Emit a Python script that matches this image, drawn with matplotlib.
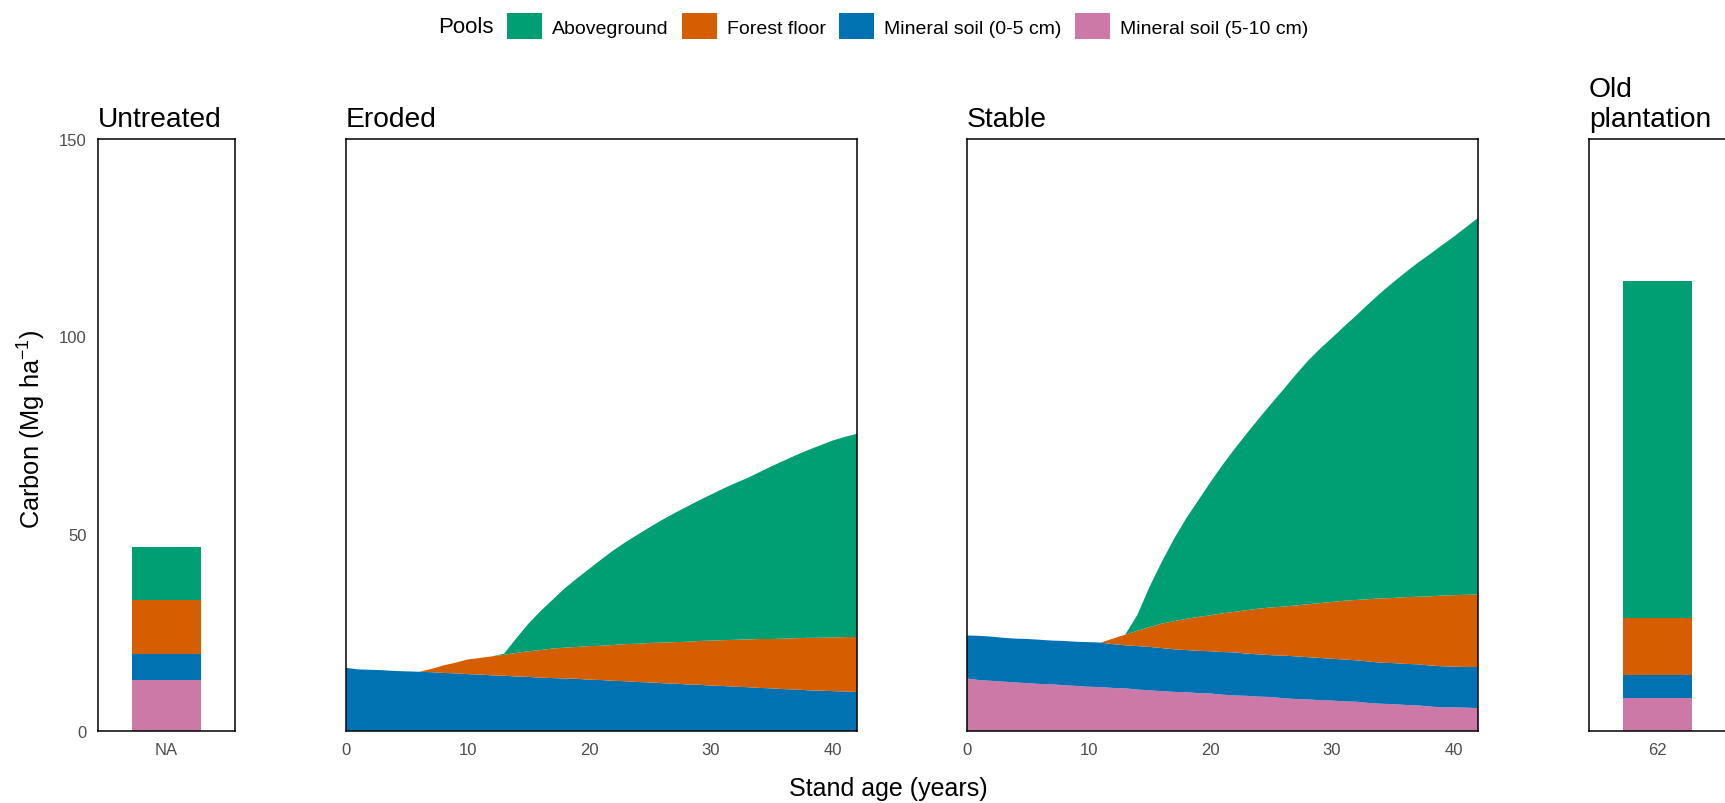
import numpy as np
import matplotlib.pyplot as plt
from matplotlib.patches import Patch

plt.rcParams['font.family'] = ['Liberation Sans', 'DejaVu Sans']
plt.rcParams['mathtext.fontset'] = 'custom'
plt.rcParams['mathtext.rm'] = 'Liberation Sans'
plt.rcParams['mathtext.default'] = 'regular'

# pools, bottom to top
pools = ["Mineral soil (5-10 cm)", "Mineral soil (0-5 cm)", "Forest floor", "Aboveground"]
pool_colors = ["#CC79A7", "#0072B2", "#D55E00", "#009E73"]

years = np.arange(0, 43)

# Eroded (no 5-10 cm layer)
eroded_soil_0_5 = [16.0, 15.6, 15.5, 15.4, 15.2, 15.1, 15.0, 14.9, 14.7, 14.6, 14.4,
                   14.3, 14.1, 14.0, 13.8, 13.7, 13.5, 13.4, 13.3, 13.2, 13.0,
                   12.9, 12.7, 12.6, 12.4, 12.3, 12.1, 12.0, 11.8, 11.7, 11.5,
                   11.4, 11.2, 11.1, 10.9, 10.8, 10.6, 10.5, 10.3, 10.2, 10.1,
                   10.0, 9.9]
eroded_floor = [0, 0, 0, 0, 0, 0, 0, 0.8, 1.9, 2.7, 3.7,
                4.2, 4.8, 5.3, 6.0, 6.5, 7.0, 7.5, 7.8, 8.1, 8.5,
                8.7, 9.1, 9.4, 9.7, 10.0, 10.3, 10.5, 10.8, 11.1, 11.4,
                11.6, 11.9, 12.1, 12.4, 12.5, 12.8, 13.0, 13.3, 13.4, 13.6,
                13.8, 13.9]
eroded_above = [0, 0, 0, 0, 0, 0, 0, 0, 0, 0, 0,
                0, 0, 0.3, 3.7, 7.0, 9.9, 12.4, 15.1, 17.4, 19.6,
                21.9, 24.0, 25.9, 27.7, 29.4, 31.1, 32.7, 34.2, 35.6, 37.0,
                38.4, 39.7, 40.9, 42.3, 43.8, 45.1, 46.4, 47.6, 48.8, 49.9,
                50.7, 51.5]

# Stable
stable_soil_5_10 = [13.3, 12.9, 12.7, 12.5, 12.3, 12.1, 11.9, 11.8, 11.6, 11.4, 11.2,
                    11.1, 10.9, 10.8, 10.5, 10.3, 10.1, 9.9, 9.8, 9.6, 9.5,
                    9.2, 9.0, 8.9, 8.7, 8.6, 8.3, 8.1, 8.0, 7.8, 7.7,
                    7.5, 7.4, 7.1, 6.9, 6.8, 6.6, 6.5, 6.2, 6.0, 6.0,
                    5.9, 5.8]
stable_soil_0_5 = [10.9, 11.2, 11.2, 11.1, 11.1, 11.2, 11.2, 11.1, 11.2, 11.2, 11.3,
                   11.3, 11.1, 10.9, 11.0, 11.0, 10.9, 10.8, 10.7, 10.7, 10.7,
                   10.8, 10.9, 10.7, 10.7, 10.6, 10.8, 10.8, 10.7, 10.7, 10.6,
                   10.6, 10.5, 10.5, 10.4, 10.4, 10.4, 10.4, 10.4, 10.4, 10.3,
                   10.3, 10.4]
stable_floor = [0, 0, 0, 0, 0, 0, 0, 0, 0, 0, 0,
                0, 1.4, 2.7, 3.9, 5.0, 6.2, 7.1, 7.9, 8.6, 9.1,
                9.8, 10.3, 11.0, 11.6, 12.1, 12.4, 12.9, 13.4, 13.9, 14.4,
                14.9, 15.3, 15.8, 16.3, 16.5, 16.9, 17.1, 17.5, 17.9, 18.1,
                18.3, 18.4]
stable_above = [0, 0, 0, 0, 0, 0, 0, 0, 0, 0, 0,
                0, 0, 0, 4.0, 10.2, 15.6, 20.8, 25.4, 29.5, 33.7,
                37.6, 41.3, 44.8, 48.2, 51.6, 55.0, 58.4, 61.6, 64.4, 66.9,
                69.5, 72.1, 74.8, 77.4, 79.9, 82.2, 84.5, 86.6, 88.7, 90.8,
                93.1, 95.4]

# single bars: pink, blue, orange, green
untreated_label = "NA"
untreated_vals = [12.8, 6.7, 13.7, 13.4]
old_label = "62"
old_vals = [8.4, 5.7, 14.5, 85.4]

fig = plt.figure(figsize=(17.25, 8.04), dpi=100)

bottom = 0.0896
height = 0.7363
ax_u = fig.add_axes([0.0568, bottom, 0.0794, height])
ax_e = fig.add_axes([0.2006, bottom, 0.2962, height])
ax_s = fig.add_axes([0.5606, bottom, 0.2962, height])
ax_o = fig.add_axes([0.9212, bottom, 0.0794, height])


def bar_panel(ax, label, vals):
    base = 0
    for v, c in zip(vals, pool_colors):
        ax.bar([label], [v], bottom=[base], width=1.0, color=c, linewidth=0)
        base += v
    ax.set_xlim(-1, 1)


bar_panel(ax_u, untreated_label, untreated_vals)
bar_panel(ax_o, old_label, old_vals)

ax_e.stackplot(years, eroded_soil_0_5, eroded_floor, eroded_above,
               colors=pool_colors[1:], linewidth=0)
ax_s.stackplot(years, stable_soil_5_10, stable_soil_0_5, stable_floor, stable_above,
               colors=pool_colors, linewidth=0)
for ax in (ax_e, ax_s):
    ax.set_xlim(0, 42)
    ax.set_xticks([0, 10, 20, 30, 40])

titles = ["Untreated", "Eroded", "Stable", "Old\nplantation"]
for ax, t in zip((ax_u, ax_e, ax_s, ax_o), titles):
    ax.set_ylim(0, 150)
    ax.set_title(t, loc='left', fontsize=20.3, pad=9)
    for sp in ax.spines.values():
        sp.set_linewidth(1.1)
        sp.set_color('black')
    ax.tick_params(length=0, labelsize=12, labelcolor='#4D4D4D', pad=8)
    if ax is not ax_u:
        ax.set_yticks([])

ax_u.set_yticks([0, 50, 100, 150])
ax_u.tick_params(axis='y', pad=8)

fig.text(0.0186, 0.466, "Carbon (Mg ha$^{-1}$)", rotation=90,
         ha='center', va='center', fontsize=18.3)
fig.text(0.515, 0.019, "Stand age (years)", ha='center', va='center', fontsize=18)

handles = [Patch(facecolor=c, edgecolor='none') for c in reversed(pool_colors)]
fig.legend(handles, list(reversed(pools)), loc='center', bbox_to_anchor=(0.526, 0.966),
           ncol=4, frameon=False, fontsize=14, handlelength=1.8, handleheight=1.7,
           handletextpad=0.5, columnspacing=0.7)
fig.text(0.254, 0.966, "Pools", ha='left', va='center', fontsize=16)

fig.savefig("out.png", dpi=100)
